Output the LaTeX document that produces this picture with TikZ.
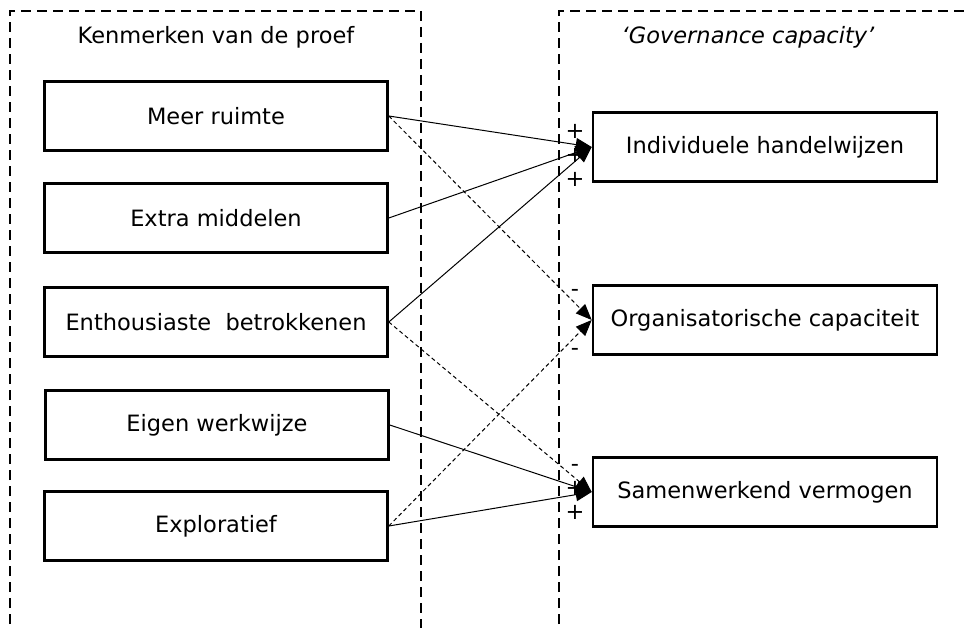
\documentclass[tikz,border=0pt]{standalone}
\usepackage{fontspec}
\setmainfont{DejaVu Sans}
\usetikzlibrary{arrows.meta}
\begin{document}
\begin{tikzpicture}[x=1pt,y=-1pt,
  txt/.style={font=\fontsize{22.5}{27}\selectfont},
  box/.style={draw,line width=2.6pt,minimum width=343pt,minimum height=69pt,inner sep=0pt,txt},
  frame/.style={line width=2.6pt,dash pattern=on 10pt off 6pt},
  posarr/.style={-{Triangle[length=16pt,width=13pt]},line width=1pt},
  negarr/.style={posarr,dash pattern=on 4pt off 3pt},
  sign/.style={inner sep=0pt,txt}]
\useasboundingbox (0,0) rectangle (964,628);
% frames
\draw[frame] (10,640) -- (10,11) -- (421,11) -- (421,640);
\draw[frame] (559,640) -- (559,11) -- (975,11);
\node[txt] (t1) at (216,37) {Kenmerken van de proef};
\node[txt] (t2) at (748,37) {\itshape ‘Governance capacity’};
% left boxes
\node[box] (a) at (216,116) {Meer ruimte};
\node[box] (b) at (216,218) {Extra middelen};
\node[box] (c) at (216,322) {Enthousiaste\ \ betrokkenen};
\node[box] (d) at (217,425) {Eigen werkwijze};
\node[box] (e) at (216,526) {Exploratief};
% right boxes
\node[box,minimum width=344pt] (p) at (765,147) {Individuele handelwijzen};
\node[box,minimum width=344pt] (q) at (765,320) {Organisatorische capaciteit};
\node[box,minimum width=344pt] (r) at (765,492) {Samenwerkend vermogen};
% connectors
\draw[posarr] (a.east) -- (p.west);
\draw[negarr] (a.east) -- (q.west);
\draw[posarr] (b.east) -- (p.west);
\draw[posarr] (c.east) -- (p.west);
\draw[negarr] (c.east) -- (r.west);
\draw[posarr] (d.east) -- (r.west);
\draw[negarr] (e.east) -- (q.west);
\draw[posarr] (e.east) -- (r.west);
% signs
\node[sign] (s1) at (575,131) {+};
\node[sign] (s2) at (575,155) {+};
\node[sign] (s3) at (575,179) {+};
\node[sign] (s4) at (575,293) {-};
\node[sign] (s5) at (575,352) {-};
\node[sign] (s6) at (575,468) {-};
\node[sign] (s7) at (575,488) {+};
\node[sign] (s8) at (575,512) {+};
\end{tikzpicture}
\end{document}
